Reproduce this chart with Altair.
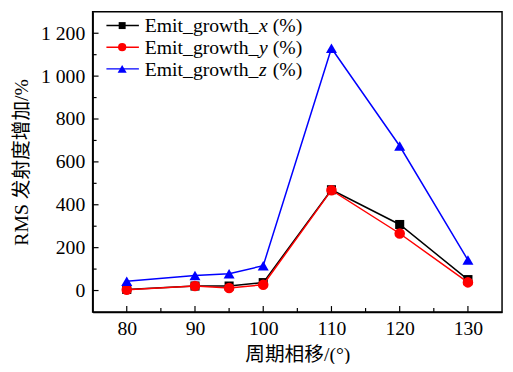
import altair as alt
import pandas as pd

# ---- data ----
phase = [80, 90, 95, 100, 110, 120, 130]
emit_x = [5, 21, 21, 37, 470, 308, 51]
emit_y = [4, 21, 12, 27, 468, 266, 38]
emit_z = [43, 70, 78, 116, 1130, 674, 142]

series_names = ["Emit_growth_x (%)", "Emit_growth_y (%)", "Emit_growth_z (%)"]
series_colors = ["#000000", "#ff0000", "#0000ff"]
series_shapes = ["square", "circle", "triangle-up"]
series_sizes = [85, 115, 125]
legend_sizes = [50, 70, 85]
italic_letters = ["x", "y", "z"]

y_major = [0, 200, 400, 600, 800, 1000, 1200]
y_minor = [100, 300, 500, 700, 900, 1100]
x_major = [80, 90, 100, 110, 120, 130]
x_minor = [85, 95, 105, 115, 125]

W, H = 416, 305
FONT = "'Liberation Serif', 'Noto Sans CJK SC', serif"

xscale = alt.Scale(domain=[75, 135], nice=False, zero=False)
yscale = alt.Scale(domain=[-100, 1300], nice=False, zero=False)

xaxis = alt.Axis(values=x_major, title="周期相移/(°)", ticks=False,
                 grid=False, labelPadding=7, titlePadding=6,
                 labelFontSize=20, titleFontSize=20,
                 labelFont=FONT, titleFont=FONT,
                 titleFontWeight="normal", domainColor="#000",
                 domainWidth=1.5, labelColor="#000", titleColor="#000")
yaxis = alt.Axis(values=y_major, title="RMS 发射度增加/%", ticks=False,
                 grid=False, labelPadding=8, titlePadding=9,
                 labelFontSize=20, titleFontSize=20,
                 labelFont=FONT, titleFont=FONT,
                 titleFontWeight="normal", domainColor="#000",
                 domainWidth=1.5, labelColor="#000", titleColor="#000",
                 labelExpr="replace(format(datum.value, ','), ',', ' ')")

series_data = [emit_x, emit_y, emit_z]

layers = []
for name, vals, col, shp, sz in zip(series_names, series_data, series_colors, series_shapes, series_sizes):
    df = pd.DataFrame({"phase": phase, "value": vals, "series": name})
    base = alt.Chart(df).encode(
        x=alt.X("phase:Q", scale=xscale, axis=xaxis),
        y=alt.Y("value:Q", scale=yscale, axis=yaxis))
    layers.append(base.mark_line(color=col, strokeWidth=1.5))
    layers.append(base.mark_point(color=col, fill=col, filled=True, opacity=1,
                                  shape=shp, size=sz))

# inward ticks on left and bottom axes
def yticks(vals, length):
    return alt.Chart(pd.DataFrame({"value": vals})).mark_rule(color="#000", strokeWidth=1.2).encode(
        y=alt.Y("value:Q", scale=yscale, axis=yaxis), x=alt.value(0), x2=alt.value(length))

def xticks(vals, length):
    return alt.Chart(pd.DataFrame({"phase": vals})).mark_rule(color="#000", strokeWidth=1.2).encode(
        x=alt.X("phase:Q", scale=xscale, axis=xaxis), y=alt.value(H), y2=alt.value(H - length))

layers += [yticks(y_major, 6), yticks(y_minor, 4), xticks(x_major, 6), xticks(x_minor, 4)]

# manual legend (to allow italic letter)
one = pd.DataFrame({"a": [0]})
for i, (col, shp, lsz, let) in enumerate(zip(series_colors, series_shapes, legend_sizes, italic_letters)):
    yp = 14 + 22 * i
    layers.append(alt.Chart(one).mark_rule(color=col, strokeWidth=1.5).encode(
        x=alt.value(14), x2=alt.value(47), y=alt.value(yp)))
    layers.append(alt.Chart(one).mark_point(color=col, fill=col, filled=True, opacity=1,
                                            shape=shp, size=lsz).encode(
        x=alt.value(30), y=alt.value(yp)))
    layers.append(alt.Chart(one).mark_text(align="left", baseline="middle", font=FONT,
                                           fontSize=20, color="#000").encode(
        x=alt.value(53), y=alt.value(yp + 1), text=alt.value("Emit_growth_")))
    layers.append(alt.Chart(one).mark_text(align="left", baseline="middle", font=FONT,
                                           fontSize=20, fontStyle="italic", color="#000").encode(
        x=alt.value(169), y=alt.value(yp + 1), text=alt.value(let)))
    layers.append(alt.Chart(one).mark_text(align="left", baseline="middle", font=FONT,
                                           fontSize=20, color="#000").encode(
        x=alt.value(183), y=alt.value(yp + 1), text=alt.value("(%)")))

chart = alt.layer(*layers).properties(
    width=W, height=H,
    background="white",
    autosize=alt.AutoSizeParams(type="none"),
    padding={"left": 86, "top": 1, "right": 3, "bottom": 50},
).configure_view(stroke="#000", strokeWidth=1.5)

chart.save("out.html", embed_options={"renderer": "svg", "actions": False})
